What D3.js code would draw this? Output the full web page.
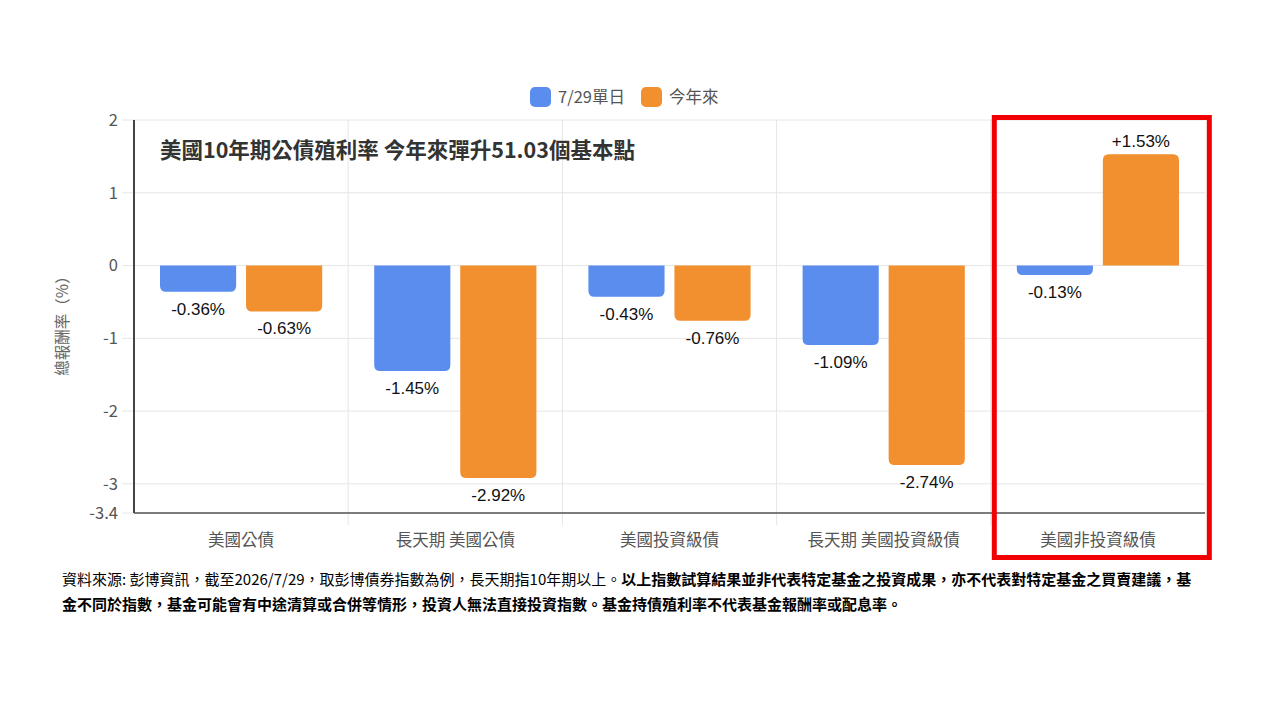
<!DOCTYPE html>
<html>
<head>
<meta charset="utf-8">
<script src="https://cdn.jsdelivr.net/npm/d3@7"></script>
<style>
  body { margin: 0; background: #fff; }
  svg { display: block; }
</style>
</head>
<body>
<script>
// data
const categories = ["美國公債", "長天期 美國公債", "美國投資級債", "長天期 美國投資級債", "美國非投資級債"];
const dailyValues = [-0.36, -1.45, -0.43, -1.09, -0.13];
const ytdValues = [-0.63, -2.92, -0.76, -2.74, 1.53];
const seriesNames = ["7/29單日", "今年來"];
const yTicks = [2, 1, 0, -1, -2, -3, -3.4];
const footLine1Plain = "資料來源: 彭博資訊，截至2026/7/29，取彭博債券指數為例，長天期指10年期以上。";
const footLine1Bold = "以上指數試算結果並非代表特定基金之投資成果，亦不代表對特定基金之買賣建議，基";
const footLine2Bold = "金不同於指數，基金可能會有中途清算或合併等情形，投資人無法直接投資指數。基金持債殖利率不代表基金報酬率或配息率。";

const W = 1280, H = 720;
const colors = ["#5b8def", "#f28f2f"];
const cjk = "'Noto Sans CJK TC', 'Noto Sans', sans-serif";
const margin = {left: 134, right: 75, top: 120, bottom: 207};

const svg = d3.select("body").append("svg")
    .attr("width", W).attr("height", H);

const x0 = d3.scaleBand()
    .domain(categories)
    .range([margin.left, W - margin.right])
    .paddingInner(0).paddingOuter(0);
const x1 = d3.scaleBand()
    .domain([0, 1])
    .range([26, x0.bandwidth() - 26])
    .paddingInner(0.115);
const y = d3.scaleLinear()
    .domain([-3.4, 2])
    .range([H - margin.bottom, margin.top]);

// gridlines
const grid = svg.append("g").attr("stroke", "#e6e6e6").attr("stroke-width", 1);
grid.selectAll("line.h")
    .data(yTicks)
    .join("line")
    .attr("x1", margin.left - 12).attr("x2", W - margin.right)
    .attr("y1", d => y(d)).attr("y2", d => y(d));
grid.selectAll("line.v")
    .data(categories.slice(1))
    .join("line")
    .attr("x1", d => x0(d)).attr("x2", d => x0(d))
    .attr("y1", margin.top).attr("y2", y(-3.4) + 12);

// y tick labels
svg.append("g")
    .selectAll("text")
    .data(yTicks)
    .join("text")
    .attr("x", margin.left - 16)
    .attr("y", d => y(d))
    .attr("dy", "0.35em")
    .attr("text-anchor", "end")
    .attr("font-family", cjk)
    .attr("font-size", 16.5)
    .attr("fill", "#555")
    .text(d => d);

// bars with rounded far end
function barPath(xl, w, v) {
  const y0 = y(0), y1 = y(v);
  const r = Math.min(6, Math.abs(y1 - y0));
  const s = v < 0 ? 1 : -1;
  return `M${xl},${y0}V${y1 - s * r}Q${xl},${y1} ${xl + r},${y1}` +
         `H${xl + w - r}Q${xl + w},${y1} ${xl + w},${y1 - s * r}V${y0}Z`;
}

const series = [dailyValues, ytdValues];
const groups = svg.append("g")
    .selectAll("g")
    .data(categories)
    .join("g")
    .attr("transform", d => `translate(${x0(d)},0)`);

groups.each(function(cat, ci) {
  const g = d3.select(this);
  series.forEach((vals, si) => {
    const v = vals[ci];
    const xl = x1(si), w = x1.bandwidth();
    g.append("path")
        .attr("d", barPath(xl, w, v))
        .attr("fill", colors[si]);
    g.append("text")
        .attr("x", xl + w / 2)
        .attr("y", v < 0 ? y(v) + 23 : y(v) - 7)
        .attr("text-anchor", "middle")
        .attr("font-family", "'Liberation Sans', Arial, sans-serif")
        .attr("font-size", 17)
        .attr("fill", "#111")
        .text((v > 0 ? "+" : "") + v.toFixed(2) + "%");
  });
});

// axis lines
svg.append("line")
    .attr("x1", margin.left).attr("x2", margin.left)
    .attr("y1", margin.top).attr("y2", y(-3.4))
    .attr("stroke", "#444").attr("stroke-width", 2);
svg.append("line")
    .attr("x1", margin.left).attr("x2", W - margin.right)
    .attr("y1", y(-3.4)).attr("y2", y(-3.4))
    .attr("stroke", "#555").attr("stroke-width", 1.5);

// x labels
svg.append("g")
    .selectAll("text")
    .data(categories)
    .join("text")
    .attr("x", d => x0(d) + x0.bandwidth() / 2)
    .attr("y", 546)
    .attr("text-anchor", "middle")
    .attr("font-family", cjk)
    .attr("font-size", 16.5)
    .attr("fill", "#555")
    .text(d => d);

// y axis title
svg.append("text")
    .attr("transform", "translate(68,322) rotate(-90)")
    .attr("text-anchor", "middle")
    .attr("font-family", cjk)
    .attr("font-size", 15.5)
    .attr("fill", "#666")
    .text("總報酬率（%）");

// chart title
svg.append("text")
    .attr("x", 160).attr("y", 158)
    .attr("font-family", cjk)
    .attr("font-size", 21.5)
    .attr("font-weight", "bold")
    .attr("fill", "#333")
    .text("美國10年期公債殖利率 今年來彈升51.03個基本點");

// legend
const legend = svg.append("g").attr("transform", "translate(530,87)");
const li = legend.selectAll("g")
    .data(seriesNames)
    .join("g")
    .attr("transform", (d, i) => `translate(${i * 111},0)`);
li.append("rect")
    .attr("width", 21).attr("height", 20).attr("rx", 5)
    .attr("fill", (d, i) => colors[i]);
li.append("text")
    .attr("x", 28).attr("y", 10).attr("dy", "0.35em")
    .attr("font-family", cjk)
    .attr("font-size", 16.5)
    .attr("fill", "#555")
    .text(d => d);

// highlight box
svg.append("rect")
    .attr("x", x0(categories[4]) + 3.5).attr("y", 117.5)
    .attr("width", 215).attr("height", 440)
    .attr("fill", "none")
    .attr("stroke", "#f00000")
    .attr("stroke-width", 5);

// footnote
const foot = svg.append("g")
    .attr("font-family", cjk)
    .attr("font-size", 15)
    .attr("fill", "#000");
const t1 = foot.append("text").attr("x", 62).attr("y", 585);
t1.append("tspan").text(footLine1Plain);
t1.append("tspan").attr("font-weight", "bold").text(footLine1Bold);
foot.append("text").attr("x", 62).attr("y", 610)
    .attr("font-weight", "bold")
    .text(footLine2Bold);
</script>
</body>
</html>
